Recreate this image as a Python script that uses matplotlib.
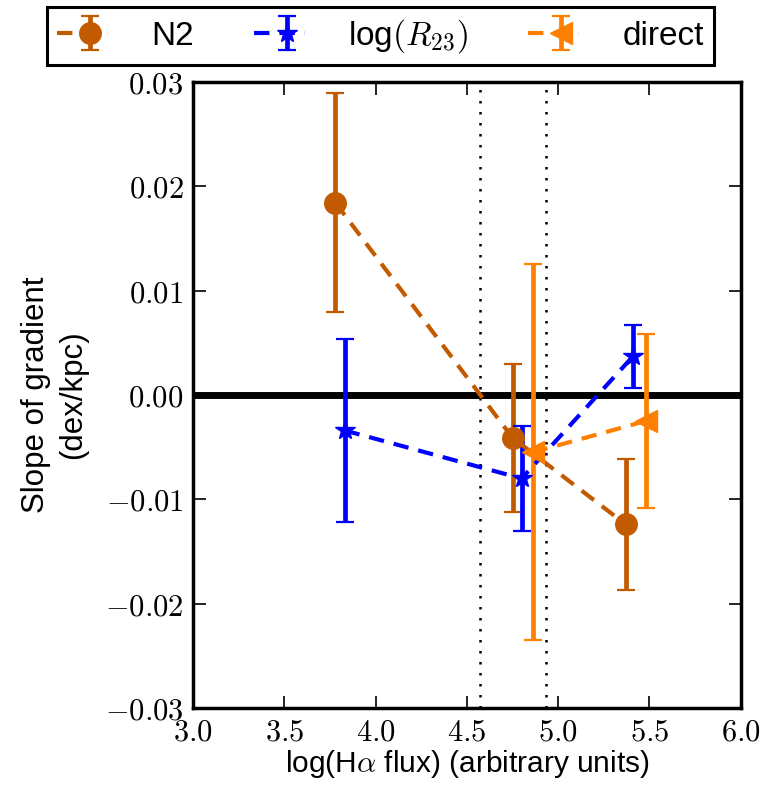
import matplotlib
matplotlib.use("Agg")
import matplotlib.pyplot as plt
from matplotlib.ticker import FuncFormatter, MultipleLocator
from matplotlib.legend_handler import HandlerErrorbar
from matplotlib.container import ErrorbarContainer

plt.rcParams['mathtext.fontset'] = 'cm'
plt.rcParams['font.family'] = ['Liberation Sans', 'DejaVu Sans']

# N2
n2_x = [3.78, 4.75, 5.37]
n2_y = [0.0184, -0.0041, -0.0124]
n2_err = [0.0105, 0.0071, 0.0063]
# log(R23)
r23_x = [3.83, 4.80, 5.41]
r23_y = [-0.0034, -0.0080, 0.0037]
r23_err = [0.0088, 0.0050, 0.0030]
# direct
dir_x = [4.86, 5.48]
dir_y = [-0.0055, -0.0025]
dir_err = [0.0180, 0.0083]

vlines_x = [4.571, 4.936]


class OffsetErrHandler(HandlerErrorbar):
    def get_xdata(self, legend, xdescent, ydescent, width, height, fontsize):
        xdata, _ = super().get_xdata(legend, xdescent, ydescent, width, height, fontsize)
        return xdata, [-xdescent + 0.65 * width]


fig = plt.figure(figsize=(7.66, 7.93), dpi=100)
ax = fig.add_axes([0.252, 0.107, 0.715, 0.790])

ax.axhline(0.0, color='black', lw=5, zorder=1)
for vx in vlines_x:
    ax.axvline(vx, color='black', ls=(0, (1, 3.4)), lw=1.8, zorder=1)

kw = dict(ls='--', lw=3, elinewidth=3.4, capsize=6.2, capthick=1.6, dashes=(3.7, 2.4))
ax.errorbar(n2_x, n2_y, yerr=n2_err, color='#c25a00', marker='o', ms=15.5,
            mec='#c25a00', label='N2', **kw)
ax.errorbar(r23_x, r23_y, yerr=r23_err, color='#0000ff', marker='*', ms=15,
            mec='#0000ff', label=r'log$(R_{23})$', **kw)
ax.errorbar(dir_x, dir_y, yerr=dir_err, color='#ff8000', marker='<', ms=15.5,
            mec='#ff8000', label='direct', **kw)

ax.set_xlim(3.0, 6.0)
ax.set_ylim(-0.03, 0.03)
ax.xaxis.set_major_locator(MultipleLocator(0.5))
ax.yaxis.set_major_locator(MultipleLocator(0.01))


def fmt_x(v, pos):
    return r'$%.1f$' % v


def fmt_y(v, pos):
    if abs(v) < 1e-9:
        v = 0.0
    return r'$%.2f$' % v


ax.xaxis.set_major_formatter(FuncFormatter(fmt_x))
ax.yaxis.set_major_formatter(FuncFormatter(fmt_y))
ax.tick_params(direction='in', length=9, width=1.2, top=True, right=True,
               labelsize=22, pad=7)
for s in ax.spines.values():
    s.set_linewidth(2.5)

ax.set_xlabel(r'log(H$\alpha$ flux) (arbitrary units)', fontsize=21.5, labelpad=0)
ax.set_ylabel('Slope of gradient\n(dex/kpc)', fontsize=22.5, labelpad=12,
              linespacing=1.3)

leg = ax.legend(loc='lower left', bbox_to_anchor=(47 / 766, 1 - 65 / 793),
                bbox_transform=fig.transFigure, ncol=3,
                numpoints=1, fontsize=24, frameon=True, fancybox=False,
                columnspacing=1.8, handlelength=1.53, handletextpad=1.3,
                borderpad=0.3, borderaxespad=0.0,
                handler_map={ErrorbarContainer: OffsetErrHandler(numpoints=1)})
leg.get_frame().set_edgecolor('black')
leg.get_frame().set_linewidth(2.2)
leg.get_frame().set_alpha(1)

fig.savefig('out.png', dpi=100)
